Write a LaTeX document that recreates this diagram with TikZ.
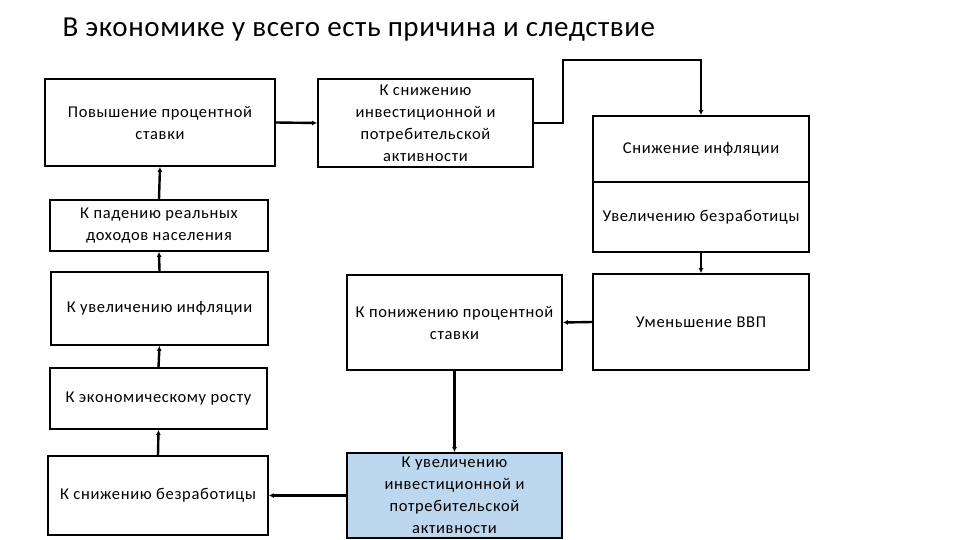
\documentclass[tikz,border=0pt]{standalone}
\usepackage{fontspec}
\setmainfont{Carlito}[LetterSpace=4]
\newfontfamily\titlefont{Carlito}[LetterSpace=2]
\usetikzlibrary{arrows.meta}
\begin{document}
\begin{tikzpicture}[x=1pt,y=-1pt,
  box/.style={draw,line width=1.8pt,align=center,font=\fontsize{16.5}{22}\selectfont,inner sep=0pt},
  arr/.style={line width=2.4pt,-{Latex[length=5pt,width=5pt]}}]
\useasboundingbox (0,0) rectangle (960,540);
\node[anchor=west,font=\titlefont\fontsize{29}{34}\selectfont] (title) at (59,30) {В экономике у всего есть причина и следствие};
\node[box,minimum width=230,minimum height=87] (b1) at (160,122.5) {Повышение процентной\\ставки};
\node[box,minimum width=218,minimum height=51] (b2) at (159,225.5) {К падению реальных\\доходов населения};
\node[box,minimum width=217,minimum height=73] (b3) at (159.5,308.5) {К увеличению инфляции};
\node[box,minimum width=217,minimum height=61] (b4) at (158.5,398.5) {К экономическому росту};
\node[box,minimum width=220,minimum height=79] (b5) at (158,495.5) {К снижению безработицы};
\node[box,minimum width=215,minimum height=88] (m1) at (425.5,123) {К снижению\\инвестиционной и\\потребительской\\активности};
\node[box,minimum width=215,minimum height=95] (m2) at (454.5,322.5) {К понижению процентной\\ставки};
\node[box,fill={rgb,255:red,189;green,215;blue,238},minimum width=215,minimum height=85] (m3) at (454.5,495.5) {К увеличению\\инвестиционной и\\потребительской\\активности};
\node[box,minimum width=216,minimum height=66] (r1) at (701,149) {Снижение инфляции};
\node[box,minimum width=216,minimum height=70] (r2) at (701,217) {Увеличению безработицы};
\node[box,minimum width=216,minimum height=96] (r3) at (701,322) {Уменьшение ВВП};
\draw[arr] (b1.east) -- (m1.west);
\draw[arr] (m1.east) -- (563,123) -- (563,60) -- (701,60) -- (r1.north);
\draw[arr] (r2.south) -- (r3.north);
\draw[arr] (r3.west) -- (m2.east);
\draw[arr] (m2.south) -- (m3.north);
\draw[arr] (m3.west) -- (b5.east);
\draw[arr] (b5.north) -- (b4.south);
\draw[arr] (b4.north) -- (b3.south);
\draw[arr] (b3.north) -- (b2.south);
\draw[arr] (b2.north) -- (b1.south);
\end{tikzpicture}
\end{document}
